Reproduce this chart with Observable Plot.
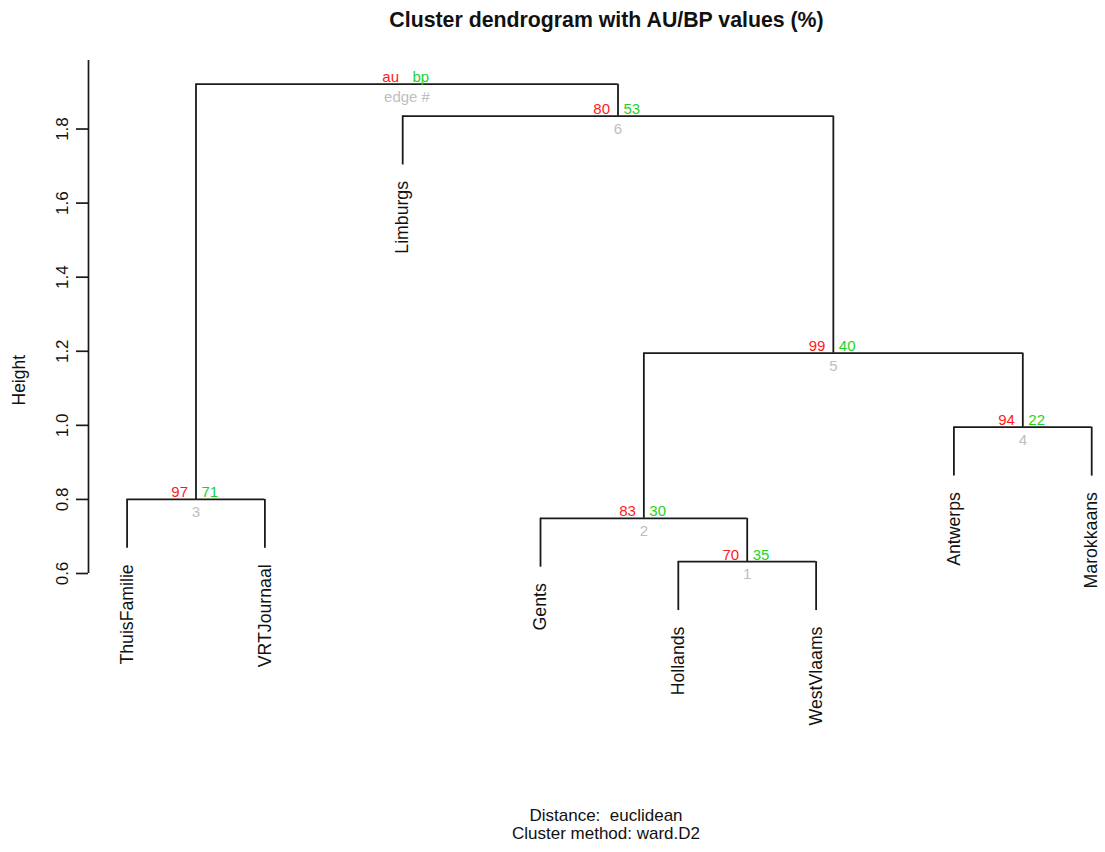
<!DOCTYPE html>
<html>
<head>
<meta charset="utf-8">
<script src="https://cdn.jsdelivr.net/npm/d3@7"></script>
<script src="https://cdn.jsdelivr.net/npm/@observablehq/plot@0.6"></script>
<style>
  html, body { margin: 0; padding: 0; background: #fff; }
  body { width: 1105px; height: 852px; overflow: hidden; font-family: "Liberation Sans", Arial, sans-serif; color: #111; }
  #title { height: 40px; line-height: 40px; padding-left: 108px; width: 997px; text-align: center; font-weight: bold; font-size: 21.3px; white-space: nowrap; }
  #chart svg { display: block; }
  #caption { margin-top: 7px; padding-left: 107px; width: 998px; text-align: center; font-size: 17px; line-height: 18px; white-space: pre; }
</style>
</head>
<body>
<div id="title">Cluster dendrogram with AU/BP values (%)</div>
<div id="chart"></div>
<div id="caption">Distance:  euclidean
Cluster method: ward.D2</div>
<script>
// ---- data ----
const leafNames = ["ThuisFamilie", "VRTJournaal", "Limburgs", "Gents", "Hollands", "WestVlaams", "Antwerps", "Marokkaans"];
// hclust-style merges: negative = leaf (1-based position in leafNames), positive = earlier merge (edge #)
const mergeA = [-5, -4, -1, -7, 2, -3, 3];
const mergeB = [-6, 1, -2, -8, 4, 5, 6];
const mergeHeight = [0.632, 0.749, 0.800, 0.995, 1.195, 1.835, 1.921];
const auValues = [70, 83, 97, 94, 99, 80];
const bpValues = [35, 30, 71, 22, 40, 53];
const edgeNumbers = [1, 2, 3, 4, 5, 6];
const legendLabels = ["au", "bp", "edge #"];
const yTicks = [0.6, 0.8, 1.0, 1.2, 1.4, 1.6, 1.8];
const leafHang = 0.132;

// ---- build layout tables from the arrays ----
const nodeX = [];
const childX = c => c < 0 ? -c : nodeX[c - 1];
const childH = (c, h) => c < 0 ? h - leafHang : mergeHeight[c - 1];
const horiz = [], vert = [], leaves = [];
mergeA.forEach((a, i) => {
  const b = mergeB[i], h = mergeHeight[i];
  const xa = childX(a), xb = childX(b);
  nodeX[i] = (xa + xb) / 2;
  horiz.push({x1: xa, x2: xb, y: h});
  for (const c of [a, b]) {
    vert.push({x: childX(c), y1: childH(c, h), y2: h});
    if (c < 0) leaves.push({x: -c, y: h - leafHang, name: leafNames[-c - 1]});
  }
});
const edges = edgeNumbers.map((e, i) => ({x: nodeX[i], y: mergeHeight[i], au: auValues[i], bp: bpValues[i], edge: e}));
const root = {x: nodeX[nodeX.length - 1], y: mergeHeight[mergeHeight.length - 1]};
const legend = [{...root, au: legendLabels[0], bp: legendLabels[1], edge: legendLabels[2]}];
const labelled = [...edges, ...legend];

const xDomain = [0.72, 8.1];
const yDomain = [0.6, 1.985];
const lineColor = "#1a1a1a";

const chart = Plot.plot({
  width: 1105,
  height: 760,
  marginLeft: 88,
  marginRight: 0,
  marginTop: 20,
  marginBottom: 227,
  style: {fontFamily: "'Liberation Sans', Arial, sans-serif", fontSize: "17px", color: "#111", background: "#fff"},
  x: {domain: xDomain, axis: null},
  y: {domain: yDomain, axis: null},
  marks: [
    Plot.ruleX([xDomain[0]], {y1: yDomain[0], y2: yDomain[1], stroke: lineColor, strokeWidth: 1.7}),
    Plot.axisY({ticks: yTicks, tickSize: 12, tickPadding: 9, tickRotate: -90, tickFormat: d3.format(".1f"), stroke: lineColor, strokeWidth: 1.7, fill: "#111", fontSize: 17, label: null}),
    Plot.text(["Height"], {frameAnchor: "left", rotate: -90, dx: -69, dy: 88.5, fontSize: 17.5, fill: "#111"}),
    Plot.ruleY(horiz, {x1: "x1", x2: "x2", y: "y", stroke: lineColor, strokeWidth: 1.8}),
    Plot.ruleX(vert, {x: "x", y1: "y1", y2: "y2", stroke: lineColor, strokeWidth: 1.8}),
    Plot.text(leaves, {x: "x", y: "y", text: "name", rotate: -90, textAnchor: "end", lineAnchor: "middle", dy: 16, fontSize: 17.7, fill: "#111"}),
    Plot.text(labelled, {x: "x", y: "y", text: "au", textAnchor: "end", lineAnchor: "bottom", dx: -8, dy: -2, fontSize: 15, fill: "#ff1a1a"}),
    Plot.text(labelled, {x: "x", y: "y", text: "bp", textAnchor: "start", lineAnchor: "bottom", dx: 5.5, dy: -2, fontSize: 15, fill: "#1ed31e"}),
    Plot.text(labelled, {x: "x", y: "y", text: "edge", textAnchor: "middle", lineAnchor: "middle", dy: 13, fontSize: 15, fill: "#bebebe"})
  ]
});
document.getElementById("chart").appendChild(chart);
</script>
</body>
</html>
